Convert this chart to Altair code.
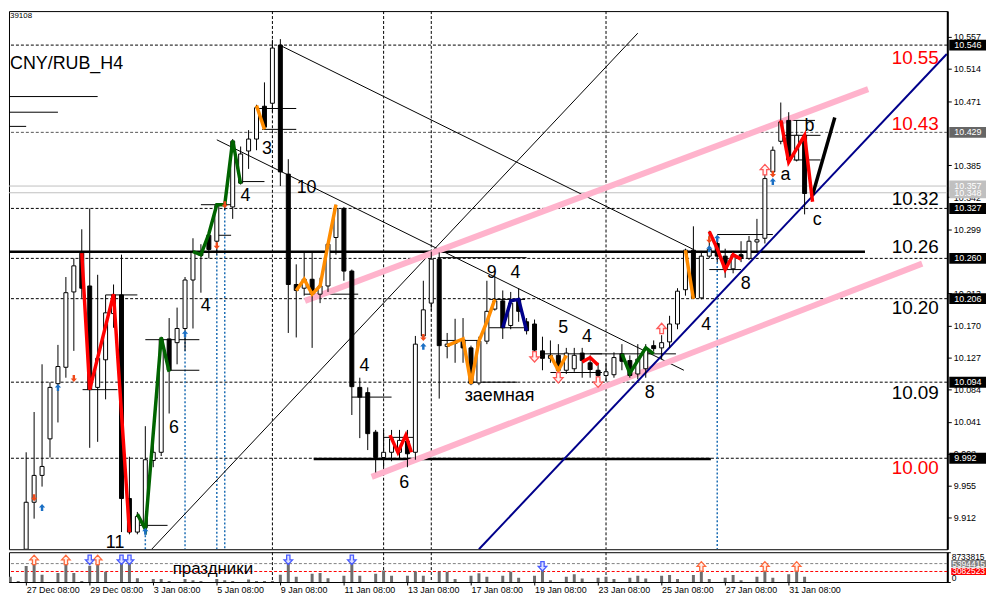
import altair as alt
import pandas as pd

# ---------------- data ----------------
candle_i = list(range(3, 102))
opens = [9.870, 9.933, 9.969, 10.018, 10.092, 10.114, 10.215, 10.267, 10.223, 10.087,
         10.124, 10.186, 10.211, 9.938, 9.893, 9.899, 9.989, 10.000, 10.152, 10.147,
         10.166, 10.231, 10.268, 10.291, 10.283, 10.331, 10.329, 10.361, 10.404, 10.420,
         10.464, 10.468, 10.546, 10.373, 10.225, 10.220, 10.232, 10.212, 10.223, 10.288,
         10.327, 10.243, 10.087, 10.080, 10.027, 9.993, 10.000, 10.000, 10.015, 10.000,
         10.156, 10.200, 10.259, 10.142, 10.146, 10.151, 10.140, 10.093, 10.149, 10.192,
         10.203, 10.170, 10.205, 10.175, 10.172, 10.136, 10.126, 10.130, 10.110, 10.112,
         10.133, 10.120, 10.110, 10.103, 10.104, 10.132, 10.123, 10.105, 10.112, 10.143,
         10.140, 10.148, 10.172, 10.218, 10.271, 10.207, 10.263, 10.280, 10.263, 10.246,
         10.265, 10.260, 10.282, 10.287, 10.376, 10.417, 10.445, 10.392, 10.425]
highs = [10.000, 10.054, 10.118, 10.094, 10.144, 10.235, 10.260, 10.299, 10.327, 10.238,
         10.211, 10.225, 10.265, 9.994, 9.920, 10.035, 10.010, 10.155, 10.180, 10.194,
         10.235, 10.287, 10.279, 10.296, 10.334, 10.338, 10.420, 10.410, 10.432, 10.466,
         10.496, 10.553, 10.554, 10.393, 10.252, 10.269, 10.269, 10.234, 10.283, 10.332,
         10.329, 10.245, 10.100, 10.087, 10.030, 10.030, 10.030, 10.030, 10.030, 10.156,
         10.230, 10.269, 10.268, 10.160, 10.179, 10.180, 10.143, 10.155, 10.230, 10.236,
         10.217, 10.215, 10.220, 10.180, 10.178, 10.155, 10.150, 10.145, 10.140, 10.140,
         10.140, 10.130, 10.120, 10.120, 10.134, 10.145, 10.130, 10.145, 10.145, 10.150,
         10.157, 10.183, 10.220, 10.273, 10.303, 10.270, 10.297, 10.290, 10.273, 10.270,
         10.283, 10.290, 10.313, 10.383, 10.410, 10.469, 10.456, 10.445, 10.427]
lows = [9.870, 9.911, 9.954, 9.993, 10.040, 10.100, 10.136, 10.207, 10.006, 10.014,
        10.071, 10.167, 9.893, 9.890, 9.890, 9.890, 9.980, 9.995, 10.052, 10.118,
        10.136, 10.166, 10.214, 10.260, 10.265, 10.325, 10.313, 10.359, 10.380, 10.405,
        10.433, 10.456, 10.357, 10.160, 10.154, 10.210, 10.140, 10.200, 10.215, 10.265,
        10.230, 10.050, 10.019, 10.003, 9.973, 9.979, 9.988, 9.990, 9.980, 9.990,
        10.153, 10.190, 10.072, 10.126, 10.120, 10.120, 10.090, 10.090, 10.145, 10.190,
        10.152, 10.165, 10.175, 10.158, 10.130, 10.110, 10.120, 10.100, 10.105, 10.108,
        10.100, 10.100, 10.088, 10.095, 10.100, 10.110, 10.100, 10.098, 10.100, 10.135,
        10.125, 10.140, 10.165, 10.210, 10.206, 10.205, 10.260, 10.255, 10.234, 10.240,
        10.255, 10.258, 10.270, 10.280, 10.370, 10.413, 10.388, 10.390, 10.319]
closes = [9.933, 9.969, 9.981, 10.087, 10.115, 10.214, 10.250, 10.220, 10.084, 10.126,
          10.187, 10.211, 9.938, 9.893, 9.914, 9.990, 10.000, 10.152, 10.110, 10.166,
          10.231, 10.268, 10.264, 10.272, 10.331, 10.333, 10.417, 10.400, 10.420, 10.462,
          10.436, 10.542, 10.376, 10.225, 10.217, 10.232, 10.212, 10.223, 10.279, 10.327,
          10.243, 10.088, 10.074, 10.025, 9.993, 10.000, 10.018, 10.016, 9.998, 10.145,
          10.191, 10.259, 10.143, 10.145, 10.148, 10.140, 10.092, 10.149, 10.189, 10.203,
          10.167, 10.200, 10.189, 10.163, 10.137, 10.126, 10.130, 10.110, 10.133, 10.130,
          10.123, 10.111, 10.103, 10.108, 10.127, 10.122, 10.103, 10.125, 10.139, 10.139,
          10.147, 10.172, 10.216, 10.271, 10.207, 10.263, 10.272, 10.263, 10.246, 10.265,
          10.260, 10.283, 10.285, 10.367, 10.405, 10.443, 10.392, 10.425, 10.347]

vol_i = list(range(1, 102))
volumes_m = [1.54, 0.26, 4.7,  6.43, 2.14, 0.0, 2.66,  5.83, 2.66, 0.26, 4.8,
             7.3, 3.0, 0.0, 5.83,  5.83, 1.1, 0.0, 0.86,  0.86, 0.3, 0.0, 0.86,
             0.5, 0.3, 0.0, 0.86,  0.5, 0.3, 0.0, 0.7,  0.3, 0.3, 0.3, 2.1,
             6.7, 1.54, 0.0, 2.4,  2.66, 1.1, 0.0, 1.8,  6.7, 1.8, 0.0, 2.4,
             3.4, 1.8, 0.0, 1.8,  3.1, 1.8, 0.0, 3.0,  3.0, 0.86, 0.0, 1.8,
             2.57, 1.54, 0.0, 1.8,  3.0, 1.28, 0.0, 1.8,  3.7, 0.5, 0.0, 1.54,
             2.3, 1.03, 0.0, 1.28,  1.54, 0.86, 0.0, 1.28,  1.8, 1.03, 0.0, 1.8,
             2.06, 0.86, 0.0, 2.06,  3.0, 0.86, 0.0, 1.28,  2.06, 0.5, 0.0, 1.54,
             3.3, 1.28, 0.0, 2.3,  3.0, 1.54]
vol_max = 8733815
vol_level_gray = 5394415
vol_level_red = 3082523

date_tick_index = [3, 11, 19, 27, 35, 43, 51, 59, 67, 75, 83, 91, 99]
date_tick_labels = ["27 Dec 08:00", "29 Dec 08:00", "3 Jan 08:00", "5 Jan 08:00",
                    "9 Jan 08:00", "11 Jan 08:00", "13 Jan 08:00", "17 Jan 08:00",
                    "19 Jan 08:00", "23 Jan 08:00", "25 Jan 08:00", "27 Jan 08:00",
                    "31 Jan 08:00"]
# scale labels that are not covered by the boxed level labels
price_ticks = [10.557, 10.514, 10.471, 10.385, 10.342, 10.299, 10.213,
               10.170, 10.127, 10.084, 10.041, 9.998, 9.955, 9.912]

# horizontal price levels with boxed axis labels
level_prices = [10.546, 10.429, 10.357, 10.348, 10.327, 10.260, 10.206, 10.094, 9.992]
level_box_colors = ["#000000", "#666666", "#c0c0c0", "#c0c0c0", "#000000", "#000000",
                    "#000000", "#000000", "#000000"]
dashed_levels = [10.546, 10.429, 10.327, 10.260, 10.206, 10.094, 9.992]
dashed_level_colors = ["#000000", "#555555", "#000000", "#000000", "#000000", "#000000", "#000000"]
gray_levels = [10.357, 10.348]

# big level labels on the right
big_label_text = ["10.55", "10.43", "10.32", "10.26", "10.20", "10.09", "10.00"]
big_label_price = [10.521, 10.432, 10.332, 10.267, 10.186, 10.072, 9.971]
big_label_color = ["#ff0000", "#ff0000", "#000000", "#000000", "#000000", "#000000", "#ff0000"]

# wave labels on the chart
wave_text = ["3", "4", "10", "4", "6", "4", "6", "9", "4", "5", "4", "8", "4", "8",
             "a", "b", "c", "заемная"]
wave_i = [33.3, 30.6, 38.3, 25.6, 21.6, 45.6, 50.6, 61.6, 64.6, 70.6, 73.6, 81.5,
          88.6, 93.6, 98.6, 101.6, 102.6, 62.6]
wave_p = [10.407, 10.343, 10.355, 10.196, 10.032, 10.116, 9.959, 10.240, 10.240,
          10.167, 10.154, 10.079, 10.170, 10.225, 10.372, 10.438, 10.311, 10.076]
# wave label sitting on the lower edge of the price pane
edge_text = ["11"]
edge_i = [14.2]
edge_p = [9.870]

# vertical separators and blue dotted markers
vsep_i = [34, 48, 54, 76]
blue_v_i = [18, 23, 27, 28, 90]
blue_v_top = [9.894, 10.159, 10.277, 10.332, 10.287]

# thin horizontal level segments (start index, end index, price)
seg_i1 = [0.84, 0.84, 0.84, 10.1, 13, 17, 18, 21, 25, 27, 29.8, 32, 32.7, 38, 44, 48, 55,
          54.8, 61.3, 61.3, 58.6, 68, 69, 74, 90, 89, 98, 99.6, 98.6]
seg_i2 = [12, 7, 3, 14.5, 17, 20.8, 24.8, 24.8, 28.8, 28.8, 33, 37, 37, 44.8, 49, 51.7, 60,
          66, 65.8, 65.8, 64.8, 75.5, 75.5, 84.8, 97, 93, 103, 103, 102.3]
seg_p = [10.477, 10.456, 10.437, 10.084, 10.211, 9.902, 10.151, 10.110, 10.332, 10.291,
         10.363, 10.461, 10.433, 10.212, 10.074, 10.020, 10.150, 10.261, 10.205, 10.167,
         10.094, 10.132, 10.107, 10.132, 10.292, 10.245, 10.425, 10.392, 10.445]

# thick horizontal support/resistance lines
thick_i1 = [0.84, 39.2]
thick_i2 = [108.6, 89.2]
thick_p = [10.269, 9.991]

# drawn trend lines: (colour, width, [i...], [p...])
trend_lines = [
    ("#000000", 1.0, [35.1, 87.0], [10.545, 10.272]),
    ("#000000", 1.0, [27.0, 85.8], [10.419, 10.110]),
    ("#000000", 1.0, [18.8, 80.0], [9.870, 10.562]),
    ("#ffb3cc", 6.0, [38.1, 109.0], [10.203, 10.487]),
    ("#ffb3cc", 6.0, [46.5, 115.8], [9.967, 10.253]),
    ("#00008b", 2.0, [60.0, 118.9], [9.870, 10.534]),
    ("#000000", 3.5, [102.0, 104.8], [10.345, 10.449]),
]

# zigzag overlays: (colour, [i...], [p...])
zigzags = [
    ("#ff0000", [10, 11, 14, 16], [10.267, 10.084, 10.212, 9.893]),
    ("#ff0000", [48.8, 49.8, 50.8, 51.5], [10.023, 10.000, 10.023, 10.000]),
    ("#ff0000", [73, 74, 75], [10.121, 10.127, 10.117]),
    ("#ff0000", [89, 90, 91, 92, 93], [10.296, 10.273, 10.245, 10.265, 10.259]),
    ("#ff0000", [98, 99, 101, 102], [10.445, 10.389, 10.425, 10.336]),
    ("#006400", [17, 18, 20, 21], [9.917, 9.897, 10.154, 10.108]),
    ("#006400", [24, 25, 26, 27, 28, 29, 30], [10.269, 10.265, 10.293, 10.332, 10.332, 10.418, 10.360]),
    ("#006400", [78, 79, 81, 82], [10.132, 10.106, 10.140, 10.132]),
    ("#ff8c00", [32, 33], [10.465, 10.433]),
    ("#ff8c00", [37, 38, 39, 40, 41, 42], [10.217, 10.232, 10.212, 10.223, 10.279, 10.332]),
    ("#ff8c00", [56, 58, 59, 60, 61, 62], [10.143, 10.152, 10.092, 10.149, 10.175, 10.205]),
    ("#ff8c00", [69, 70, 71], [10.130, 10.110, 10.130]),
    ("#ff8c00", [86, 87], [10.271, 10.206]),
    ("#00008b", [63, 64, 65, 66], [10.167, 10.203, 10.205, 10.163]),
]

# signal arrows
sm_down_i = [4, 9, 27, 28, 53, 89, 97]
sm_down_p = [9.939, 10.099, 10.277, 10.332, 10.154, 10.285, 10.373]
sm_up_i = [5, 7, 18, 23, 53, 89, 90, 97]
sm_up_p = [9.926, 10.087, 9.894, 10.159, 10.142, 10.273, 10.287, 10.363]
hol_down_i = [67, 70, 75]
hol_down_p = [10.128, 10.100, 10.094]
hol_up_i = [83, 96]
hol_up_p = [10.166, 10.379]
vol_up_i = [4, 8, 12, 88, 96, 100]
vol_up_v = [6.5e6, 6.5e6, 6.5e6, 4.6e6, 4.6e6, 4.6e6]
vol_dn_i = [11, 15, 16, 36, 44, 68]
vol_dn_v = [6.5e6, 6.5e6, 6.5e6, 6.5e6, 6.5e6, 4.6e6]

# ---------------- layout / style ----------------
FONT = "Liberation Sans"
W = 945
H_PRICE = 542
H_VOL = 30
X_MIN, X_MAX = 0.8375, 0.8375 + W / 8.0
P_MIN, P_MAX = 9.870, 10.5916
PRICE_PER_PX = (P_MAX - P_MIN) / H_PRICE
VOL_PER_PX = vol_max / H_VOL
BOX_HALF_PRICE = 5.5 * PRICE_PER_PX
BOX_HALF_VOL = 3.6 * VOL_PER_PX

candles = pd.DataFrame({"i": candle_i, "o": opens, "h": highs, "l": lows, "c": closes})
vol = pd.DataFrame({"i": vol_i, "v": [m * 1e6 for m in volumes_m]})

rows = []
for k, (col, w, xs, ps) in enumerate(trend_lines):
    for x, p in zip(xs, ps):
        rows.append({"seg": k, "col": col, "w": w, "i": x, "p": p})
trend_df = pd.DataFrame(rows)
rows = []
for k, (col, xs, ps) in enumerate(zigzags):
    for n, (x, p) in enumerate(zip(xs, ps)):
        rows.append({"seg": k, "col": col, "n": n, "i": x, "p": p})
zz_df = pd.DataFrame(rows)

XS = alt.Scale(domain=[X_MIN, X_MAX], nice=False, zero=False, padding=0)
PS = alt.Scale(domain=[P_MIN, P_MAX], nice=False, zero=False, padding=0)
VS = alt.Scale(domain=[0, vol_max], nice=False, zero=False, padding=0)

price_axis = alt.Axis(orient="right", values=price_ticks, format=".3f", title=None, grid=False,
                      labelFont=FONT, labelFontSize=9, labelColor="black", tickColor="black",
                      tickSize=4, domainColor="black", domainWidth=2, labelPadding=2,
                      labelOverlap=False, labelFlush=False)
label_expr = "[" + ",".join("'%s'" % s for s in date_tick_labels) + "][round((datum.value - 3) / 8)]"
time_axis = alt.Axis(orient="bottom", values=date_tick_index, labelExpr=label_expr, title=None,
                     grid=False, labelFont=FONT, labelFontSize=9, labelColor="black",
                     labelAlign="left", tickColor="black", tickSize=3, domainColor="black",
                     labelPadding=1, labelOverlap=False, labelFlush=False)
vol_axis = alt.Axis(orient="right", values=[0, vol_max], format="d", title=None, grid=False,
                    labelFont=FONT, labelFontSize=8.5, labelColor="black", tickColor="black",
                    tickSize=3, domainColor="black", domainWidth=2, labelPadding=1,
                    labelFlush=True, labelOverlap=False)


def X(f="i"):
    return alt.X(f"{f}:Q", scale=XS, axis=None)


def XV(f="i"):
    return alt.X(f"{f}:Q", scale=XS, axis=time_axis)


def Y(f="p"):
    return alt.Y(f"{f}:Q", scale=PS, axis=price_axis)


def YV(f="v"):
    return alt.Y(f"{f}:Q", scale=VS, axis=vol_axis)


UP = "M0,-1 L0.9,0 L0.35,0 L0.35,1 L-0.35,1 L-0.35,0 L-0.9,0 Z"
DOWN = "M0,1 L0.9,0 L0.35,0 L0.35,-1 L-0.35,-1 L-0.35,0 L-0.9,0 Z"

# ---------------- price panel ----------------
lv = pd.DataFrame({"p": dashed_levels, "col": dashed_level_colors})
dashed = alt.Chart(lv).mark_rule(strokeDash=[3, 2], strokeWidth=1, clip=True).encode(
    y=Y(), color=alt.Color("col:N", scale=None))
graylines = alt.Chart(pd.DataFrame({"p": gray_levels})).mark_rule(
    color="#c0c0c0", strokeWidth=1, clip=True).encode(y=Y())
vseps = alt.Chart(pd.DataFrame({"i": vsep_i})).mark_rule(
    color="black", strokeDash=[3, 2], strokeWidth=1, clip=True).encode(x=X())
bluev = alt.Chart(pd.DataFrame({"i": blue_v_i, "p": blue_v_top, "p2": [P_MIN] * len(blue_v_i)})).mark_rule(
    color="#1e6eb4", strokeDash=[2, 2], strokeWidth=1.5, clip=True).encode(x=X(), y=Y(), y2="p2:Q")
thin = alt.Chart(pd.DataFrame({"i1": seg_i1, "i2": seg_i2, "p": seg_p})).mark_rule(
    color="black", strokeWidth=1, clip=True).encode(x=X("i1"), x2="i2:Q", y=Y())
thick = alt.Chart(pd.DataFrame({"i1": thick_i1, "i2": thick_i2, "p": thick_p})).mark_rule(
    color="black", strokeWidth=2.5, clip=True).encode(x=X("i1"), x2="i2:Q", y=Y())
trends = alt.Chart(trend_df).mark_line(clip=True).encode(
    x=X(), y=Y(), detail="seg:N", color=alt.Color("col:N", scale=None),
    strokeWidth=alt.StrokeWidth("w:Q", scale=None))
wicks = alt.Chart(candles).mark_rule(color="black", strokeWidth=1, clip=True).encode(
    x=X(), y=Y("l"), y2="h:Q")
bodies = alt.Chart(candles).mark_bar(size=4, stroke="black", strokeWidth=1, clip=True).encode(
    x=X(), y=Y("o"), y2="c:Q",
    fill=alt.condition("datum.c >= datum.o", alt.value("white"), alt.value("black")))
zz = alt.Chart(zz_df).mark_line(strokeWidth=3.5, clip=True).encode(
    x=X(), y=Y(), detail="seg:N", order="n:Q", color=alt.Color("col:N", scale=None))
sdown = alt.Chart(pd.DataFrame({"i": sm_down_i, "p": sm_down_p})).mark_point(
    shape=DOWN, size=49, filled=True, color="#f04a1a", opacity=1, clip=True).encode(x=X(), y=Y())
sup = alt.Chart(pd.DataFrame({"i": sm_up_i, "p": sm_up_p})).mark_point(
    shape=UP, size=49, filled=True, color="#1a6fc4", opacity=1, clip=True).encode(x=X(), y=Y())
hdown = alt.Chart(pd.DataFrame({"i": hol_down_i, "p": hol_down_p})).mark_point(
    shape=DOWN, size=110, filled=True, fill="#fff4f4", stroke="#ff5a5a", strokeWidth=1.3,
    opacity=1, clip=True).encode(x=X(), y=Y())
hup = alt.Chart(pd.DataFrame({"i": hol_up_i, "p": hol_up_p})).mark_point(
    shape=UP, size=110, filled=True, fill="#fff4f4", stroke="#ff5a5a", strokeWidth=1.3,
    opacity=1, clip=True).encode(x=X(), y=Y())
waves = alt.Chart(pd.DataFrame({"t": wave_text, "i": wave_i, "p": wave_p})).mark_text(
    font=FONT, fontSize=18, align="center", baseline="middle", color="black", clip=True).encode(
    x=X(), y=Y(), text="t:N")
edge_waves = alt.Chart(pd.DataFrame({"t": edge_text, "i": edge_i, "p": edge_p})).mark_text(
    font=FONT, fontSize=18, align="center", baseline="bottom", dy=3, color="black", clip=True).encode(
    x=X(), y=Y(), text="t:N")
big = alt.Chart(pd.DataFrame({"t": big_label_text, "p": big_label_price, "col": big_label_color,
                              "i": [117.9] * len(big_label_text)})).mark_text(
    font=FONT, fontSize=19, align="right", baseline="alphabetic", clip=True).encode(
    x=X(), y=Y(), text="t:N", color=alt.Color("col:N", scale=None))
title = alt.Chart(pd.DataFrame({"t": ["CNY/RUB_H4"], "i": [X_MIN], "p": [10.520]})).mark_text(
    font=FONT, fontSize=18, align="left", baseline="middle", dx=1, color="black", clip=True).encode(
    x=X(), y=Y(), text="t:N")
corner = alt.Chart(pd.DataFrame({"t": ["39108"], "i": [X_MIN], "p": [10.585]})).mark_text(
    font=FONT, fontSize=8, align="left", baseline="middle", dx=1, color="black", clip=True).encode(
    x=X(), y=Y(), text="t:N")
boxes_df = pd.DataFrame({"p": level_prices, "col": level_box_colors,
                         "t": ["%.3f" % v for v in level_prices]})
boxes_df["top"] = boxes_df["p"] + BOX_HALF_PRICE
boxes_df["bot"] = boxes_df["p"] - BOX_HALF_PRICE
boxes = alt.Chart(boxes_df).mark_rect(clip=False).encode(
    x=alt.value(W + 2), x2=alt.value(W + 39), y=Y("top"), y2="bot:Q",
    color=alt.Color("col:N", scale=None))
boxtext = alt.Chart(boxes_df).mark_text(font=FONT, fontSize=9, align="left", baseline="middle",
                                        color="white", clip=False).encode(
    x=alt.value(W + 7), y=Y(), text="t:N")

price = alt.layer(dashed, graylines, vseps, bluev, thin, thick, trends, wicks, bodies, zz,
                  sdown, sup, hdown, hup, waves, edge_waves, big, title, corner, boxes,
                  boxtext).properties(width=W, height=H_PRICE)

# ---------------- volume panel ----------------
vseps_v = alt.Chart(pd.DataFrame({"i": vsep_i})).mark_rule(
    color="black", strokeDash=[3, 2], strokeWidth=1, clip=True).encode(x=XV())
vlv = pd.DataFrame({"v": [vol_level_gray, vol_level_red], "col": ["#808080", "#ff0000"],
                    "t": [str(vol_level_gray), str(vol_level_red)]})
vlv["top"] = vlv["v"] + BOX_HALF_VOL
vlv["bot"] = vlv["v"] - BOX_HALF_VOL
vlines = alt.Chart(vlv).mark_rule(strokeDash=[3, 2], strokeWidth=1, clip=True).encode(
    y=YV(), color=alt.Color("col:N", scale=None))
vbars = alt.Chart(vol).mark_bar(size=3, color="#6e6e6e", clip=True).encode(x=XV(), y=YV())
vup = alt.Chart(pd.DataFrame({"i": vol_up_i, "v": vol_up_v})).mark_point(
    shape=UP, size=90, filled=True, fill="#fff0ea", stroke="#ff6a3d", strokeWidth=1.3,
    opacity=1, clip=True).encode(x=XV(), y=YV())
vdn = alt.Chart(pd.DataFrame({"i": vol_dn_i, "v": vol_dn_v})).mark_point(
    shape=DOWN, size=90, filled=True, fill="#dde0ff", stroke="#4a5cff", strokeWidth=1.3,
    opacity=1, clip=True).encode(x=XV(), y=YV())
holiday = alt.Chart(pd.DataFrame({"t": ["праздники"], "i": [26.5], "v": [3.7e6]})).mark_text(
    font=FONT, fontSize=17, align="center", baseline="middle", color="black", clip=True).encode(
    x=XV(), y=YV(), text="t:N")
vboxes = alt.Chart(vlv).mark_rect(clip=False).encode(
    x=alt.value(W + 4), x2=alt.value(W + 39), y=YV("top"), y2="bot:Q",
    color=alt.Color("col:N", scale=None))
vboxtext = alt.Chart(vlv).mark_text(font=FONT, fontSize=8.5, align="left", baseline="middle",
                                    color="white", clip=False).encode(
    x=alt.value(W + 5), y=YV(), text="t:N")

volume = alt.layer(vseps_v, vlines, vbars, vup, vdn, holiday, vboxes, vboxtext).properties(
    width=W, height=H_VOL)

chart = alt.vconcat(price, volume, spacing=1).properties(
    padding={"left": 0, "top": 0, "right": 0, "bottom": 0},
    background="white",
).configure(padding={"left": 0, "top": 0, "right": 0, "bottom": 0}
).configure_view(stroke="black", strokeWidth=1).configure_axis(labelFont=FONT)

chart.save("out.html", embed_options={"renderer": "svg", "actions": False})
